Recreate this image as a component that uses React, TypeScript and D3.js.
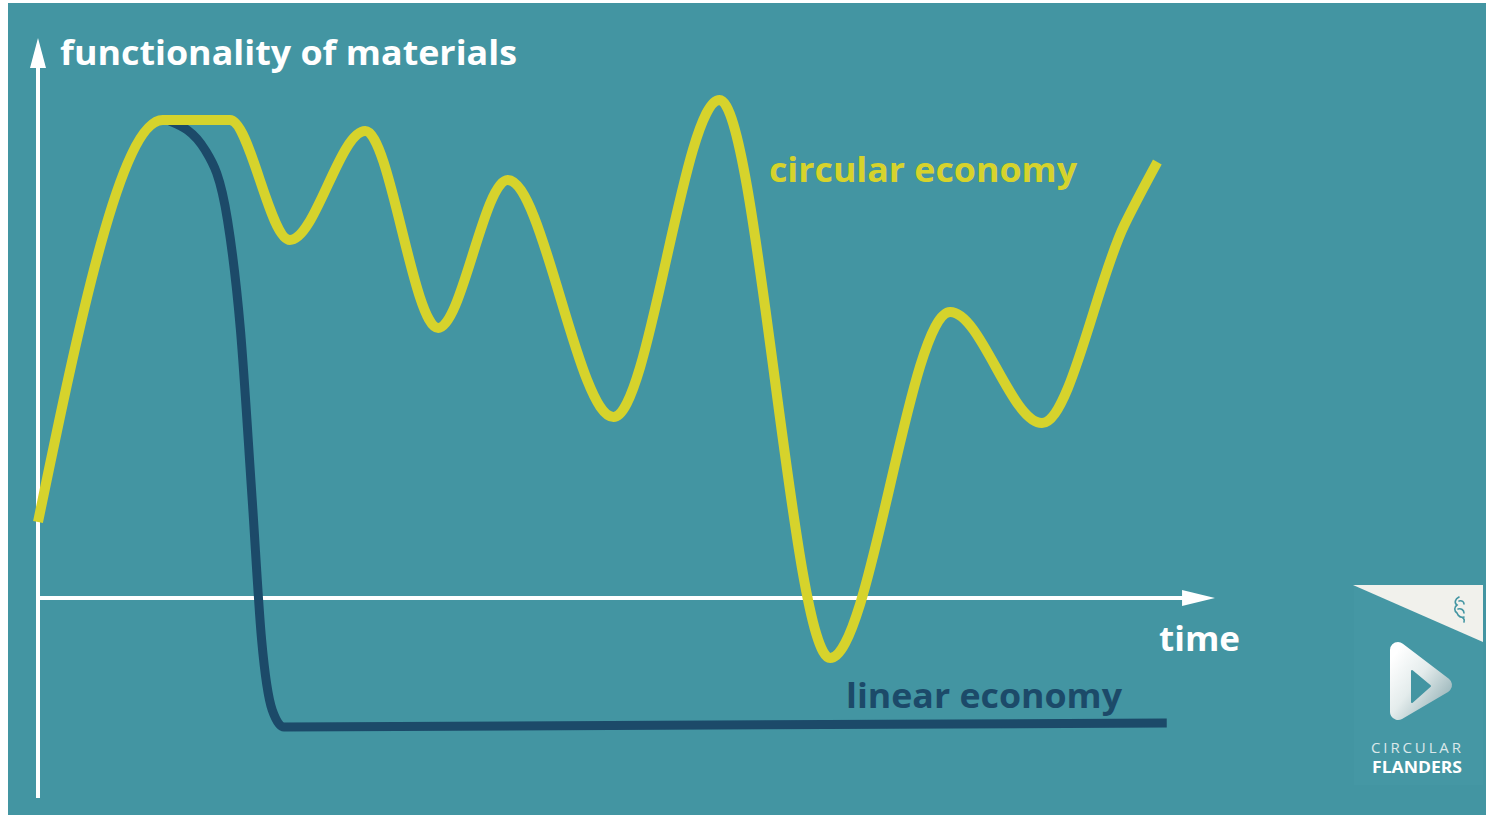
import { useEffect, useRef } from 'react'
import * as d3 from 'd3'

// time (0-100) vs functionality of materials (0 = time axis, 100 = top peak)
const circularTime = [0, 10.6, 16.3, 21.4, 27.8, 34.0, 39.9, 48.9, 57.9, 67.3, 77.5, 85.3, 92.3, 95.1]
const circularValue = [15.2, 95.6, 95.6, 71.6, 93.4, 54, 83.6, 36.2, 99.6, -12, 57.2, 35, 74.6, 87.2]

const linearTime = [11.2, 14.2, 16.1, 17.2, 18.2, 19.0, 19.9, 20.9, 95.9]
const linearValue = [95.4, 89.6, 75.6, 53.6, 19.6, -8.4, -22.4, -25.8, -25]

const labels = {
  yAxis: 'functionality of materials',
  xAxis: 'time',
  circular: 'circular economy',
  linear: 'linear economy',
}

const W = 1486
const H = 815
const TEAL = '#4395a2'
const YELLOW = '#d6d32c'
const NAVY = '#1c4a69'
const FONT = '"Open Sans", "Noto Sans", sans-serif'

export default function App() {
  const svgRef = useRef<SVGSVGElement>(null)

  useEffect(() => {
    if (!svgRef.current) return
    const svg = d3.select(svgRef.current)
    svg.selectAll('*').remove()

    svg.append('rect').attr('width', W).attr('height', H).attr('fill', '#fff')
    svg.append('rect').attr('x', 8).attr('y', 3).attr('width', W - 8).attr('height', H - 3).attr('fill', TEAL)

    const x = d3.scaleLinear().domain([0, 100]).range([38, 1215])
    const y = d3.scaleLinear().domain([0, 100]).range([598, 98])

    // axes
    const axis = svg.append('g').attr('stroke', '#fff').attr('fill', '#fff')
    axis.append('line')
      .attr('x1', x(0)).attr('x2', x(0))
      .attr('y1', y(-40)).attr('y2', y(106))
      .attr('stroke-width', 4)
    axis.append('path')
      .attr('stroke', 'none')
      .attr('d', `M${x(0)},${y(112)} L${x(0) + 8},${y(106)} L${x(0) - 8},${y(106)} Z`)
    axis.append('line')
      .attr('x1', x(0)).attr('x2', x(97.5))
      .attr('y1', y(0)).attr('y2', y(0))
      .attr('stroke-width', 4)
    axis.append('path')
      .attr('stroke', 'none')
      .attr('d', `M${x(100)},${y(0)} L${x(97.2)},${y(0) - 8} L${x(97.2)},${y(0) + 8} Z`)

    const line = d3.line<[number, number]>()
      .x(d => x(d[0]))
      .y(d => y(d[1]))
      .curve(d3.curveMonotoneX)

    const linearData = linearTime.map((t, i) => [t, linearValue[i]] as [number, number])
    const circularData = circularTime.map((t, i) => [t, circularValue[i]] as [number, number])

    svg.append('path')
      .datum(linearData)
      .attr('fill', 'none')
      .attr('stroke', NAVY)
      .attr('stroke-width', 9)
      .attr('d', line)

    svg.append('path')
      .datum(circularData)
      .attr('fill', 'none')
      .attr('stroke', YELLOW)
      .attr('stroke-width', 10)
      .attr('stroke-linejoin', 'round')
      .attr('d', line)

    const text = (tx: number, ty: number, s: string, color: string, len: number) =>
      svg.append('text')
        .attr('x', tx).attr('y', ty)
        .attr('fill', color)
        .attr('font-family', FONT)
        .attr('font-weight', 700)
        .attr('font-size', 34)
        .attr('textLength', len)
        .attr('lengthAdjust', 'spacingAndGlyphs')
        .text(s)

    text(60, 65, labels.yAxis, '#fff', 457)
    text(769, 182, labels.circular, YELLOW, 308)
    text(1159, 651, labels.xAxis, '#fff', 81)
    text(846, 708, labels.linear, NAVY, 276)

    // Circular Flanders logo
    const logo = svg.append('g')
    logo.append('rect').attr('x', 1354).attr('y', 585).attr('width', 129).attr('height', 200).attr('fill', '#4597a4')
    logo.append('path').attr('d', 'M1353,585 L1483,585 L1483,642 Z').attr('fill', '#f1f1ec')
    logo.append('path')
      .attr('d', 'M1459,597 c-4,2 -5,6 -2,8 c-3,2 -3,6 0,8 c1,3 4,5 7,4 m-5,-16 c3,-1 5,1 5,3 m-6,5 c3,-1 6,1 6,4 m-4,4 c3,0 5,2 4,5')
      .attr('fill', 'none').attr('stroke', TEAL).attr('stroke-width', 1.6).attr('stroke-linecap', 'round')

    const defs = svg.append('defs')
    const grad = defs.append('linearGradient').attr('id', 'cfGrad')
      .attr('x1', 0).attr('y1', 0).attr('x2', 1).attr('y2', 1)
    grad.append('stop').attr('offset', '0%').attr('stop-color', '#ffffff')
    grad.append('stop').attr('offset', '45%').attr('stop-color', '#e4ecec')
    grad.append('stop').attr('offset', '100%').attr('stop-color', '#94b1b6')

    logo.append('path')
      .attr('d', 'M1398,650 L1444,685 L1398,712 Z')
      .attr('fill', 'url(#cfGrad)')
      .attr('stroke', 'url(#cfGrad)')
      .attr('stroke-width', 16)
      .attr('stroke-linejoin', 'round')
    logo.append('path')
      .attr('d', 'M1412,671 L1430,686 L1412,702 Z')
      .attr('fill', TEAL)
      .attr('stroke', TEAL)
      .attr('stroke-width', 2)
      .attr('stroke-linejoin', 'round')

    logo.append('text')
      .attr('x', 1371).attr('y', 753)
      .attr('fill', '#dbe8ea')
      .attr('font-family', FONT)
      .attr('font-size', 15)
      .attr('textLength', 90)
      .attr('lengthAdjust', 'spacing')
      .text('CIRCULAR')
    logo.append('text')
      .attr('x', 1372).attr('y', 773)
      .attr('fill', '#fff')
      .attr('font-family', FONT)
      .attr('font-weight', 700)
      .attr('font-size', 16)
      .attr('textLength', 90)
      .attr('lengthAdjust', 'spacingAndGlyphs')
      .text('FLANDERS')
  }, [])

  return (
    <svg
      ref={svgRef}
      width={W}
      height={H}
      style={{ position: 'absolute', left: 0, top: 0, display: 'block' }}
    />
  )
}
